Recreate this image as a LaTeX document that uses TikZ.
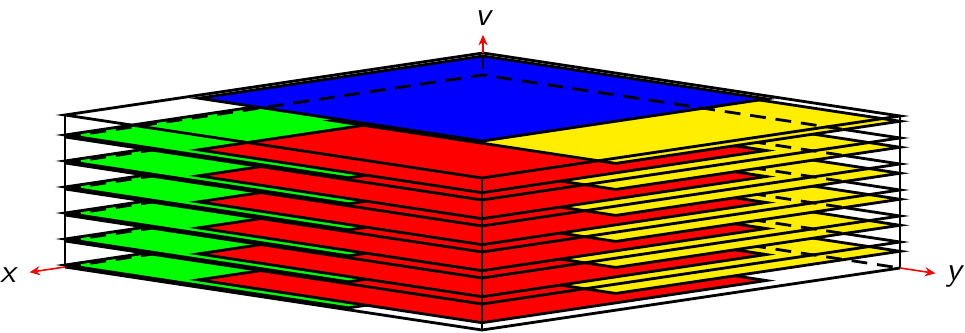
\documentclass[tikz,border=0pt]{standalone}
\usepackage{tikz}
\usetikzlibrary{arrows.meta}
\definecolor{fillblue}{RGB}{0,0,255}
\definecolor{fillgreen}{RGB}{0,255,0}
\definecolor{fillred}{RGB}{255,0,0}
\definecolor{fillyellow}{RGB}{255,238,0}

\begin{document}
\begin{tikzpicture}[
    sheet/.style={draw=black, line width=0.8pt},
    hidden/.style={draw=black, line width=0.8pt, dash pattern=on 4.5pt off 2.8pt},
    frame/.style={draw=black, line width=0.8pt},
    axarr/.style={-{Stealth[length=3pt,width=2.6pt]}, red, line width=0.45pt},
    axlabel/.style={font=\sffamily\itshape\fontsize{9.5}{10}\selectfont, inner sep=0pt}
  ]
  \useasboundingbox (0,0) rectangle (9.65,3.32);
  \begin{scope}[shift={(4.83,1.27)}, x={(-4.18cm,-0.62cm)}, y={(4.17cm,-0.63cm)}, z={(0cm,1.52cm)}]
    % corners of the box
    \coordinate (Bt) at (0,0,1);
    \coordinate (Lt) at (1,0,1);
    \coordinate (Rt) at (0,1,1);
    \coordinate (Ft) at (1,1,1);
    \coordinate (Lb) at (1,0,0);
    \coordinate (Rb) at (0,1,0);
    \coordinate (Fb) at (1,1,0);
    \coordinate (B5) at (0,0,0.8555);

    % layers, drawn from the bottom up
    \foreach \k in {0,...,5}{
      \pgfmathsetmacro\zo{0.1711*\k}
      \pgfmathsetmacro\zg{\zo+0.013}
      \pgfmathsetmacro\zr{\zo+0.048}
      \pgfmathsetmacro\zy{\zo+0.11}
      \pgfmathsetmacro\ys{\k==0 ? 1 : 0.865}
      \filldraw[sheet, fill=fillgreen] (0.32,0,\zg) -- (1,0,\zg) -- (1,0.68,\zg) -- (0.32,0.68,\zg) -- cycle;
      \filldraw[sheet, fill=fillred] (0.32,0.32,\zr) -- (1,0.32,\zr) -- (1,1,\zr) -- (0.32,1,\zr) -- cycle;
      \filldraw[sheet, fill=fillyellow] (0,0.32,\zy) -- (0.68,0.32,\zy) -- (0.68,1,\zy) -- (0,1,\zy) -- cycle;
      \draw[frame] (0,\ys,\zo) -- (0,1,\zo) -- (1,1,\zo) -- (1,0,\zo);
      \draw[hidden] (1,0,\zo) -- (0,0,\zo) -- (0,\ys,\zo);
    }

    % top block
    \filldraw[sheet, fill=fillblue] (0,0,0.98) -- (0.68,0,0.98) -- (0.68,0.68,0.98) -- (0,0.68,0.98) -- cycle;
    \begin{scope}
      \clip (0,0,0.98) -- (0.68,0,0.98) -- (0.68,0.68,0.98) -- (0,0.68,0.98) -- cycle;
      \draw[hidden] (1,0,0.8555) -- (B5) -- (0,0.865,0.8555);
      \draw[hidden] (Bt) -- (B5);
    \end{scope}

    % box
    \draw[frame] (Lt) -- (Bt) -- (Rt) -- (Ft) -- cycle;
    \draw[frame] (Lt) -- (Lb);
    \draw[frame] (Ft) -- (Fb);
    \draw[frame] (Rt) -- (Rb);

    % axes
    \coordinate (xtip) at (1.085,0,0);
    \coordinate (ytip) at (0,1.085,0);
    \coordinate (vtip) at (0,0,1.12);
    \draw[axarr] (Lb) -- (xtip);
    \draw[axarr] (Rb) -- (ytip);
    \draw[axarr] (Bt) -- (vtip);
    \node[axlabel] (xlab) at (1.135,0,0) {x};
    \node[axlabel] (ylab) at (0,1.13,0) {y};
    \node[axlabel] (vlab) at (0,0,1.23) {v};
  \end{scope}
\end{tikzpicture}
\end{document}
